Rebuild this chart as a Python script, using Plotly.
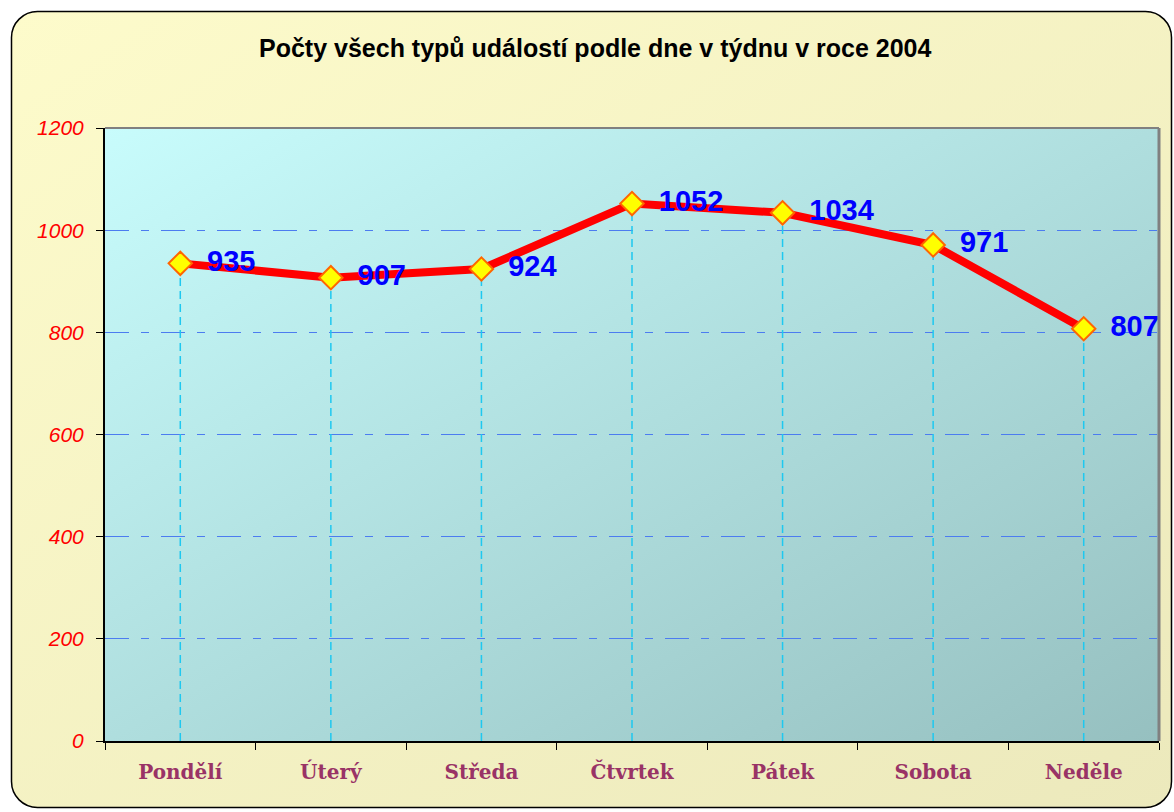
import base64
import plotly.graph_objects as go

days = ["Pondělí", "Úterý", "Středa", "Čtvrtek", "Pátek", "Sobota", "Neděle"]
counts = [935, 907, 924, 1052, 1034, 971, 807]
y_ticks = [0, 200, 400, 600, 800, 1000, 1200]
title = "Počty všech typů událostí podle dne v týdnu v roce 2004"

W, H = 1174, 812
ML, MR, MT, MB = 105, 15, 128, 71
PW, PH = W - ML - MR, H - MT - MB

# background: rounded yellow panel + diagonal teal gradient in plot area
svg = f"""<svg xmlns='http://www.w3.org/2000/svg' width='{W}' height='{H}' viewBox='0 0 {W} {H}' preserveAspectRatio='none'>
<defs>
<linearGradient id='o' x1='0' y1='0' x2='1' y2='1'>
<stop offset='0' stop-color='#FDFBCB'/><stop offset='1' stop-color='#ECE9BC'/></linearGradient>
<linearGradient id='p' x1='0' y1='0' x2='1' y2='1'>
<stop offset='0' stop-color='#C8FCFC'/><stop offset='1' stop-color='#96C0C0'/></linearGradient>
</defs>
<rect x='11.5' y='11.5' width='{W - 14}' height='{H - 16}' rx='26' ry='26' fill='url(#o)' stroke='#000' stroke-width='1.5'/>
<rect x='{ML}' y='{MT}' width='{PW}' height='{PH}' fill='url(#p)'/>
</svg>"""
bg = "data:image/svg+xml;base64," + base64.b64encode(svg.encode()).decode()

drop_x, drop_y = [], []
for d, v in zip(days, counts):
    drop_x += [d, d, None]
    drop_y += [0, v, None]

fig = go.Figure()
fig.add_trace(go.Scatter(
    x=drop_x, y=drop_y, mode="lines", hoverinfo="skip",
    line=dict(color="#1EC8F0", width=1.5, dash="8px,5px"),
))
fig.add_trace(go.Scatter(
    x=days, y=counts, mode="lines+markers+text",
    text=["\u2002" + str(v) for v in counts], textposition="middle right",
    textfont=dict(family="Liberation Sans, Arial", size=29, color="#0000FF", weight="bold"),
    line=dict(color="#FF0000", width=8),
    marker=dict(symbol="diamond", size=18, color="#FFFF00",
                line=dict(color="#FF6600", width=2)),
    cliponaxis=False,
))

fig.add_shape(type="line", xref="paper", yref="paper", x0=0, x1=1, y0=1, y1=1,
              line=dict(color="#808080", width=2))
fig.add_shape(type="line", xref="paper", yref="paper", x0=1, x1=1, y0=0, y1=1,
              line=dict(color="#808080", width=3))

fig.update_layout(
    width=W, height=H,
    margin=dict(l=ML, r=MR, t=MT, b=MB),
    paper_bgcolor="white", plot_bgcolor="rgba(0,0,0,0)",
    showlegend=False,
    title=dict(text=title, x=0.507, xanchor="center", y=1 - 48 / H, yanchor="middle",
               font=dict(family="Liberation Sans, Arial", size=25, color="black", weight="bold")),
    images=[dict(source=bg, xref="paper", yref="paper",
                 x=-ML / PW, y=1 + MT / PH, sizex=W / PW, sizey=H / PH,
                 xanchor="left", yanchor="top", sizing="stretch", layer="below")],
)
fig.update_xaxes(
    type="category", categoryorder="array", categoryarray=days, range=[-0.5, 6.5],
    showgrid=False, showline=True, linecolor="black", linewidth=2,
    ticks="outside", tickson="boundaries", ticklen=7, tickcolor="black",
    tickfont=dict(family="DejaVu Serif", size=20, color="#993366", weight="bold"),
    ticklabelstandoff=12,
)
fig.update_yaxes(
    range=[0, 1200], tickvals=y_ticks, showline=True, linecolor="black", linewidth=2,
    ticks="outside", ticklen=7, tickcolor="black", zeroline=False,
    showgrid=True, gridcolor="#4C7CF0", gridwidth=1, griddash="24px,12px,8px,12px",
    tickfont=dict(family="Liberation Sans, Arial", size=21, color="#FF0000", style="italic"),
    ticklabelstandoff=8,
)

fig.write_html("out.html", config={"displayModeBar": False},
               post_script="document.body.style.margin='0';")
